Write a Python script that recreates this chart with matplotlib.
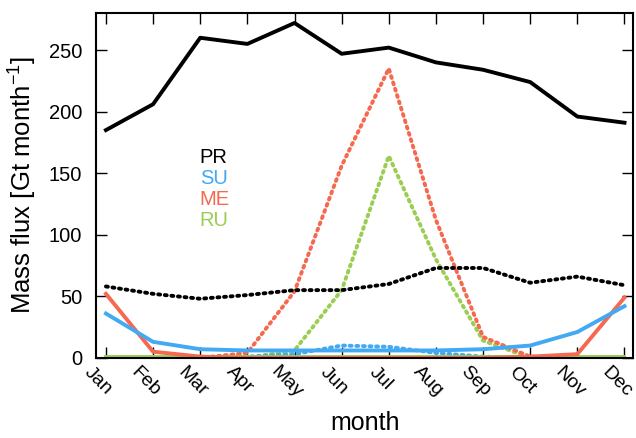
import numpy as np
import matplotlib
matplotlib.use("Agg")
from matplotlib import pyplot as plt
from matplotlib import transforms

plt.rcParams['font.family'] = ['Liberation Sans', 'DejaVu Sans']

months = ["Jan", "Feb", "Mar", "Apr", "May", "Jun", "Jul", "Aug", "Sep", "Oct", "Nov", "Dec"]

# solid lines
pr = [185, 206, 260, 255, 272, 247, 252, 240, 234, 224, 196, 191]
su = [36, 13, 7, 6, 6, 6, 6, 6, 7, 10, 21, 42]
me = [52, 5, 1, 0, 0, 0, 0, 0, 0, 1, 3, 49]
ru = [1, 1, 1, 1, 1, 1, 1, 1, 1, 1, 1, 1]

# dotted lines
pr2 = [58, 52, 48, 51, 55, 55, 60, 73, 73, 61, 66, 59]
su2 = [0, 0, 0, 1, 3, 10, 9, 4, 1, 0, 0, 0]
me2 = [0, 0, 0, 4, 54, 156, 235, 112, 17, 1, 0, 0]
ru2 = [0, 0, 0, 0, 6, 55, 164, 80, 14, 0, 0, 0]

c_pr = "black"
c_su = "#42a9f2"
c_me = "#f4694f"
c_ru = "#9bcd52"

x = np.arange(1, 13)

fig = plt.figure(figsize=(6.36, 4.38), dpi=100)
ax = fig.add_axes([0.151, 0.183, 0.845, 0.787])

dot = dict(linestyle=(0, (0.5, 1.2)), linewidth=2.8, dash_capstyle="round")
ax.plot(x, ru2, color=c_ru, **dot)
ax.plot(x, me2, color=c_me, **dot)
ax.plot(x, su2, color=c_su, **dot)
ax.plot(x, pr2, color=c_pr, **dot)

ax.plot(x, ru, color=c_ru, linewidth=2.8)
ax.plot(x, me, color=c_me, linewidth=2.8)
ax.plot(x, su, color=c_su, linewidth=2.8)
ax.plot(x, pr, color=c_pr, linewidth=2.8)

ax.set_xlim(0.79, 12.19)
ax.set_ylim(0, 280)
ax.set_yticks([0, 50, 100, 150, 200, 250])
ax.set_xticks(x)
ax.set_xticklabels(months, rotation=-45, ha="center", va="top")
ax.tick_params(direction="in", length=8, width=1, top=True, right=True, labelsize=14.5)
ax.tick_params(axis="x", labelsize=14, pad=4)
ax.tick_params(axis="y", pad=10)
# nudge the month labels a bit to the left like the original
shift = transforms.ScaledTranslation(-8 / 100, 0, fig.dpi_scale_trans)
for lab in ax.get_xticklabels():
    lab.set_transform(lab.get_transform() + shift)
for s in ax.spines.values():
    s.set_linewidth(1.5)

ax.set_xlabel("month", fontsize=18, labelpad=7)
ax.set_ylabel("Mass flux [Gt month$^{\\mathregular{-1}}$]", fontsize=18.5, labelpad=8)

for i, (name, c) in enumerate([("PR", c_pr), ("SU", c_su), ("ME", c_me), ("RU", c_ru)]):
    ax.text(0.193, 0.581 - i * 0.061, name, color=c, fontsize=14.5, transform=ax.transAxes, va="center")

fig.savefig("out.png", dpi=100)
